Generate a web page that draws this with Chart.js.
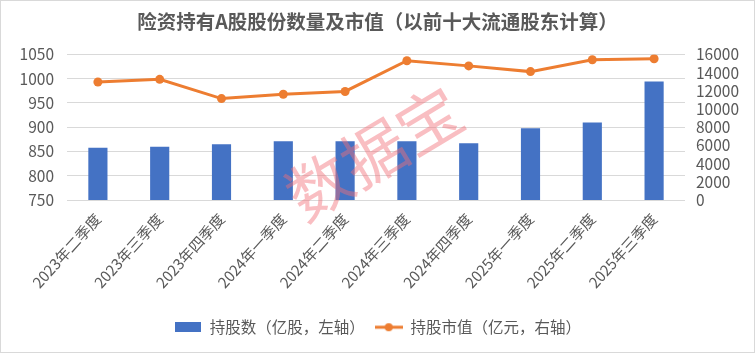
<!DOCTYPE html>
<html lang="zh">
<head>
    <meta charset="UTF-8">
    <title>险资持有A股股份数量及市值</title>
    <script src="https://cdn.jsdelivr.net/npm/chart.js@4.4.4/dist/chart.umd.min.js"></script>
    <style>
        html, body { margin: 0; padding: 0; background: #fff; }
        .chart-container { width: 755px; height: 353px; }
    </style>
</head>
<body>
    <div class="chart-container">
        <canvas id="main-chart"></canvas>
    </div>

    <script>
        // Data
        const quarters = ['2023年二季度', '2023年三季度', '2023年四季度', '2024年一季度', '2024年二季度',
                          '2024年三季度', '2024年四季度', '2025年一季度', '2025年二季度', '2025年三季度'];
        const sharesHeld = [858, 860, 865, 871, 871, 871, 867, 898, 910, 994];          // 亿股, left axis
        const marketValue = [12970, 13260, 11150, 11630, 11930, 15300, 14740, 14110, 15410, 15520]; // 亿元, right axis
        const leftTicks = [750, 1050, 50];
        const rightTicks = [0, 16000, 2000];

        const FONT = "'Noto Sans CJK SC', 'Noto Sans', sans-serif";
        const TEXT = '#595959';
        const BLUE = '#4472C4';
        const ORANGE = '#ED7D31';

        // legend markers, indexed by dataset
        function barMarker() {
            const c = document.createElement('canvas');
            c.width = 26; c.height = 10;
            const g = c.getContext('2d');
            g.fillStyle = BLUE;
            g.fillRect(0, 0, 26, 10);
            return c;
        }
        function lineMarker() {
            const c = document.createElement('canvas');
            c.width = 28; c.height = 10;
            const g = c.getContext('2d');
            g.strokeStyle = ORANGE;
            g.lineWidth = 3;
            g.beginPath(); g.moveTo(0, 5); g.lineTo(28, 5); g.stroke();
            g.fillStyle = ORANGE;
            g.beginPath(); g.arc(14, 5, 4, 0, Math.PI * 2); g.fill();
            return c;
        }
        const markers = [barMarker(), lineMarker()];

        const watermark = {
            id: 'watermark',
            afterDatasetsDraw(chart) {
                const ctx = chart.ctx;
                ctx.save();
                ctx.translate(374, 153);
                ctx.rotate(-31 * Math.PI / 180);
                ctx.font = '64px ' + FONT;
                ctx.fillStyle = 'rgba(242, 110, 120, 0.45)';
                ctx.textAlign = 'center';
                ctx.textBaseline = 'middle';
                ctx.fillText('数据宝', 0, 0);
                ctx.restore();
            }
        };

        const frame = {
            id: 'frame',
            afterDraw(chart) {
                const ctx = chart.ctx;
                ctx.save();
                ctx.strokeStyle = '#d9d9d9';
                ctx.lineWidth = 1;
                ctx.strokeRect(0.5, 0.5, chart.width - 1, chart.height - 1);
                ctx.restore();
            }
        };

        new Chart(document.getElementById('main-chart'), {
            data: {
                labels: quarters,
                datasets: [
                    {
                        type: 'bar',
                        label: '持股数（亿股，左轴）',
                        data: sharesHeld,
                        yAxisID: 'y',
                        backgroundColor: BLUE,
                        categoryPercentage: 1,
                        barPercentage: 0.31,
                        order: 2
                    },
                    {
                        type: 'line',
                        label: '持股市值（亿元，右轴）',
                        data: marketValue,
                        yAxisID: 'y1',
                        borderColor: ORANGE,
                        backgroundColor: ORANGE,
                        borderWidth: 3,
                        pointRadius: 4.5,
                        pointBackgroundColor: ORANGE,
                        pointBorderWidth: 0,
                        order: 1
                    }
                ]
            },
            options: {
                responsive: true,
                maintainAspectRatio: false,
                animation: false,
                layout: { padding: { left: 0, right: 0, top: 0, bottom: 8 } },
                plugins: {
                    title: {
                        display: true,
                        text: '险资持有A股股份数量及市值（以前十大流通股东计算）',
                        color: TEXT,
                        font: { family: FONT, size: 19.5, weight: 'bold' },
                        padding: { top: 10, bottom: 21 }
                    },
                    legend: {
                        position: 'bottom',
                        labels: {
                            color: TEXT,
                            font: { family: FONT, size: 15.5 },
                            usePointStyle: true,
                            pointStyleWidth: 28,
                            boxHeight: 10,
                            padding: 10,
                            sort: (a, b) => a.datasetIndex - b.datasetIndex,
                            generateLabels(chart) {
                                return Chart.defaults.plugins.legend.labels.generateLabels(chart).map(item => {
                                    item.pointStyle = markers[item.datasetIndex];
                                    return item;
                                });
                            }
                        }
                    },
                    tooltip: { enabled: false }
                },
                scales: {
                    x: {
                        grid: { display: false },
                        border: { display: false },
                        ticks: {
                            color: TEXT,
                            font: { family: FONT, size: 15 },
                            minRotation: 48,
                            maxRotation: 48,
                            padding: 2
                        },
                        afterFit: s => { s.height += 16; }
                    },
                    y: {
                        position: 'left',
                        min: leftTicks[0],
                        max: leftTicks[1],
                        border: { display: false },
                        grid: { color: '#d9d9d9', drawTicks: false },
                        ticks: {
                            stepSize: leftTicks[2],
                            autoSkip: false,
                            color: TEXT,
                            font: { family: FONT, size: 15.5 },
                            padding: 13,
                            callback: v => String(v)
                        },
                        afterFit: s => { s.width = 67; }
                    },
                    y1: {
                        position: 'right',
                        min: rightTicks[0],
                        max: rightTicks[1],
                        border: { display: false },
                        grid: { drawOnChartArea: false, drawTicks: false },
                        ticks: {
                            stepSize: rightTicks[2],
                            autoSkip: false,
                            color: TEXT,
                            font: { family: FONT, size: 15.5 },
                            padding: 11,
                            callback: v => String(v)
                        },
                        afterFit: s => { s.width = 70; }
                    }
                }
            },
            plugins: [watermark, frame]
        });
    </script>
</body>
</html>
